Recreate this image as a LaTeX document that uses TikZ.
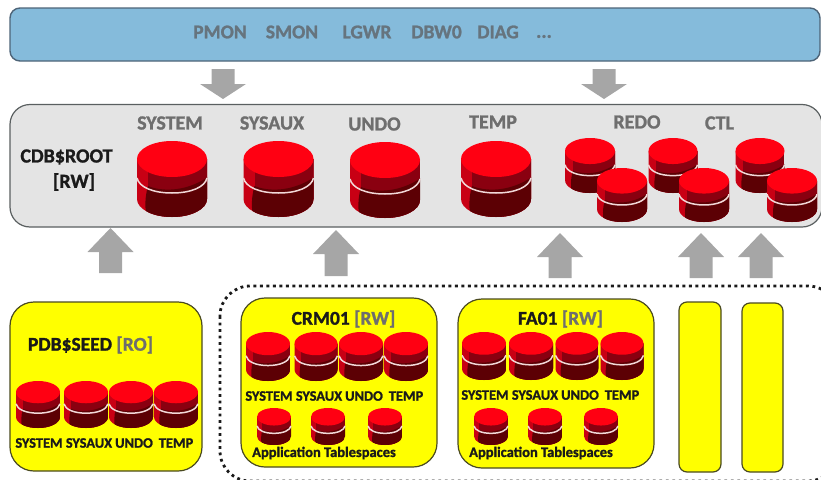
\documentclass[tikz,border=0pt]{standalone}
\usepackage{fontspec}
\setmainfont[BoldFeatures={FakeBold=1.2}]{Carlito}
\usetikzlibrary{calc}
\definecolor{barblue}{HTML}{85BBDB}
\definecolor{barline}{HTML}{4D6478}
\definecolor{rootgrey}{HTML}{E4E4E4}
\definecolor{rootline}{HTML}{5A5F60}
\definecolor{arrowgrey}{HTML}{A6A6A6}
\definecolor{labelgrey}{HTML}{6E6E6E}
\definecolor{bluelabel}{HTML}{66747E}
\definecolor{pdbyellow}{HTML}{FFFF00}
\definecolor{pdbline}{HTML}{4A4A20}
\definecolor{tanktop}{HTML}{FF0012}
\definecolor{tankside}{HTML}{C80014}
\definecolor{tankmid}{HTML}{8A0010}
\definecolor{tankdark}{HTML}{5C0004}
\definecolor{tankband}{HTML}{F2D8D8}
\definecolor{inktext}{HTML}{1A1A1A}
\tikzset{
  panel/.style={draw,anchor=north west,inner sep=0pt,outer sep=0pt},
  pdbbox/.style={panel,fill=pdbyellow,draw=pdbline,line width=1.2pt},
  txt/.style={inner sep=0pt,outer sep=0pt,anchor=center,font=\bfseries},
  bluetxt/.style={txt,text=bluelabel,font=\bfseries\fontsize{19.5}{19}\selectfont},
  rootts/.style={txt,text=labelgrey,font=\bfseries\fontsize{20}{19}\selectfont},
  roottitle/.style={txt,text=inktext,font=\bfseries\fontsize{20}{20}\selectfont},
  pdbtitle/.style={txt,text=inktext,font=\bfseries\fontsize{19.5}{20}\selectfont},
  tslabel/.style={txt,text=inktext,font=\bfseries\fontsize{14.4}{15}\selectfont},
  applabel/.style={txt,text=inktext,font=\bfseries\fontsize{14.5}{15}\selectfont},
  blockarrow/.style={fill=arrowgrey,draw=none},
  scopeline/.style={draw=inktext,line width=2.8pt,dash pattern=on 2.8pt off 3.7pt,rounded corners=30pt}
}
% \tank{centre x}{top y}{width}{height}
\newcommand{\tank}[4]{%
  \begin{scope}[shift={(#1,#2)},xscale=#3/70,yscale=#4/76]
    \begin{scope}
      \clip (-35,18) -- (-35,58) .. controls (-35,68) and (-19.3,76) .. (0,76)
            .. controls (19.3,76) and (35,68) .. (35,58) -- (35,18) -- cycle;
      \fill[tankside] (-36,10) rectangle (36,77);
      \fill[tankmid] (-24,10) -- (36,10) -- (36,77) -- (-24,77) -- cycle;
      \fill[tankdark] (-24,45) .. controls (-12,50) and (12,52) .. (36,36) -- (36,77) -- (-24,77)
            .. controls (-28,70) and (-27,55) .. (-24,45) -- cycle;
    \end{scope}
    \draw[tankband,line width=1.5pt] (-35,37) .. controls (-33,46) and (-19.3,52) .. (0,52)
          .. controls (19.3,52) and (33,46) .. (35,37);
    \fill[tanktop] (-35,18) .. controls (-35,8) and (-19.3,0) .. (0,0)
          .. controls (19.3,0) and (35,8) .. (35,18)
          .. controls (35,28) and (19.3,36) .. (0,36)
          .. controls (-19.3,36) and (-35,28) .. (-35,18) -- cycle;
  \end{scope}}
\newcommand{\downblock}[1]{%
  \fill[blockarrow] (#1-11.5,69) -- (#1+11.5,69) -- (#1+11.5,84) -- (#1+23,84) -- (#1,99)
    -- (#1-23,84) -- (#1-11.5,84) -- cycle;}
\newcommand{\upblock}[3]{%
  \fill[blockarrow] (#1,#2) -- (#1+23,#2+24) -- (#1+11.5,#2+24) -- (#1+11.5,#3) -- (#1-11.5,#3)
    -- (#1-11.5,#2+24) -- (#1-23,#2+24) -- cycle;}
\begin{document}
\begin{tikzpicture}[x=1pt,y=-1pt]
\useasboundingbox (0,0) rectangle (821,479);
\begin{scope}
\clip (0,0) rectangle (821,479);
% process bar
\node[panel,fill=barblue,draw=barline,line width=1.4pt,rounded corners=10pt,
      minimum width=810pt,minimum height=53pt] (bar) at (10,8) {};
\node[bluetxt] (pmon) at (220,32) {PMON};
\node[bluetxt] (smon) at (292,32) {SMON};
\node[bluetxt] (lgwr) at (367,32) {LGWR};
\node[bluetxt] (dbw) at (436.5,32) {DBW0};
\node[bluetxt] (diag) at (498,32) {DIAG};
\node[bluetxt] (more) at (544,36.5) {...};
% root
\node[panel,fill=rootgrey,draw=rootline,line width=1.2pt,rounded corners=20pt,
      minimum width=812pt,minimum height=122.5pt] (root) at (10,104.5) {};
\downblock{223}
\downblock{604}
\node[rootts] (rsystem) at (170,123) {SYSTEM};
\node[rootts] (rsysaux) at (272,123) {SYSAUX};
\node[rootts] (rundo) at (374.5,124) {UNDO};
\node[rootts] (rtemp) at (493,122) {TEMP};
\node[rootts] (rredo) at (637,122) {REDO};
\node[rootts] (rctl) at (719.5,123) {CTL};
\node[roottitle] (rname) at (66.5,157) {CDB\$ROOT};
\node[roottitle] (rrw) at (74,182) {[RW]};
\tank{172}{141}{70}{76}
\tank{278.5}{141}{70}{76}
\tank{385}{142}{70}{76}
\tank{496}{141}{70}{76}
\tank{590}{138}{50}{55}
\tank{622}{168}{50}{54}
\tank{673}{138}{49}{55}
\tank{704}{168}{50}{54}
\tank{760}{138}{49}{55}
\tank{792}{168}{50}{54}
% up arrows
\upblock{110.5}{228}{273}
\upblock{336}{230}{276}
\upblock{560}{233}{278}
\upblock{701}{233}{278}
\upblock{761}{233}{278}
% dotted application container
\draw[scopeline] (220,286) rectangle (838,481);
% seed
\node[pdbbox,rounded corners=24pt,minimum width=192pt,minimum height=169pt] (seed) at (10,302) {};
\node[pdbtitle,anchor=west] (seedname) at (28,345) {PDB\$SEED \textcolor{labelgrey}{[RO]}};
\tank{38}{381}{44}{47}
\tank{86}{381}{44}{47}
\tank{131}{381}{44}{47}
\tank{176}{381}{44}{47}
\node[tslabel] (s1) at (39,443) {SYSTEM};
\node[tslabel] (s2) at (89,443) {SYSAUX};
\node[tslabel] (s3) at (134,443) {UNDO};
\node[tslabel] (s4) at (176,443) {TEMP};
% CRM01
\node[pdbbox,rounded corners=24pt,minimum width=196pt,minimum height=169pt] (crm) at (241,298) {};
\node[pdbtitle] (crmname) at (343.5,319) {CRM01 \textcolor{labelgrey}{[RW]}};
\tank{268}{332}{44}{49}
\tank{316}{332}{43}{49}
\tank{361}{332}{44}{49}
\tank{406}{332}{44}{49}
\node[tslabel] (c1) at (269,396) {SYSTEM};
\node[tslabel] (c2) at (319,396) {SYSAUX};
\node[tslabel] (c3) at (364,396) {UNDO};
\node[tslabel] (c4) at (406,396) {TEMP};
\tank{274}{408}{34}{37}
\tank{328}{408}{34}{37}
\tank{385}{408}{34}{37}
\node[applabel] (capp) at (324,453) {Application Tablespaces};
% FA01
\node[pdbbox,rounded corners=24pt,minimum width=196pt,minimum height=169pt] (fa) at (458,299) {};
\node[pdbtitle] (faname) at (560.5,319) {FA01 \textcolor{labelgrey}{[RW]}};
\tank{484}{332}{44}{48}
\tank{531}{332}{44}{48}
\tank{577}{332}{43}{48}
\tank{622}{332}{43}{48}
\node[tslabel] (f1) at (485,395) {SYSTEM};
\node[tslabel] (f2) at (535,395) {SYSAUX};
\node[tslabel] (f3) at (580,395) {UNDO};
\node[tslabel] (f4) at (622,395) {TEMP};
\tank{491}{408}{34}{37}
\tank{545}{408}{34}{37}
\tank{601}{408}{34}{37}
\node[applabel] (fapp) at (541,453) {Application Tablespaces};
% empty PDBs
\node[pdbbox,rounded corners=8pt,minimum width=42pt,minimum height=170pt] (p1) at (679,302) {};
\node[pdbbox,rounded corners=8pt,minimum width=41pt,minimum height=169pt] (p2) at (742,303) {};
\end{scope}
\end{tikzpicture}
\end{document}
